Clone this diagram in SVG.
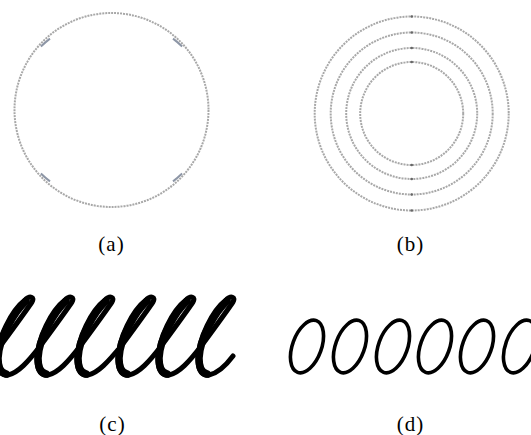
<svg xmlns="http://www.w3.org/2000/svg" width="531" height="435" viewBox="0 0 531 435">
<style>
.ring{fill:none;stroke:#a8a8a8;stroke-width:2;stroke-dasharray:2 1}
.mark{fill:#666}
.amark{fill:none;stroke:#8d96a6;stroke-width:2}
.pen{fill:none;stroke:#000;stroke-linecap:round;stroke-linejoin:round}
.zero{fill:none;stroke:#000;stroke-width:3.6}
.lbl{font-family:"Liberation Serif","Times New Roman",serif;font-size:21px;fill:#000;text-anchor:middle;letter-spacing:1px}
</style>
<rect width="531" height="435" fill="#fff"/>
<g id="fig-a">
<circle class="ring" cx="111.5" cy="110" r="97"/>
<path class="amark" d="M40.9 46.5 A97 97 0 0 1 50 38.6"/>
<path class="amark" d="M173 38.6 A97 97 0 0 1 182.1 46.5"/>
<path class="amark" d="M182.1 173.5 A97 97 0 0 1 173 181.4"/>
<path class="amark" d="M50 181.4 A97 97 0 0 1 40.9 173.5"/>
</g>
<g id="fig-b">
<circle class="ring" cx="411.7" cy="113.5" r="97"/>
<circle class="ring" cx="411.7" cy="113.5" r="81"/>
<circle class="ring" cx="411.7" cy="113.5" r="65.5"/>
<circle class="ring" cx="411.7" cy="113.5" r="51.5"/>
<circle class="mark" cx="411.7" cy="16.5" r="1.3"/>
<circle class="mark" cx="411.7" cy="32.5" r="1.3"/>
<circle class="mark" cx="411.7" cy="48" r="1.3"/>
<circle class="mark" cx="411.7" cy="62" r="1.3"/>
<circle class="mark" cx="411.7" cy="165" r="1.3"/>
<circle class="mark" cx="411.7" cy="179" r="1.3"/>
<circle class="mark" cx="411.7" cy="194.5" r="1.3"/>
<circle class="mark" cx="411.7" cy="210.5" r="1.3"/>
</g>
<g id="fig-c">
<path class="pen" stroke-width="5" d="M-12 360 C-6 356 -3 350 1 345
C12 330 28 308 32 302 C35 297 30 295 25 300 C12 310 -3 338 -3 360 C-3 372 2 376 8 375 C18 373 28 362 41 345
C52 330 68 308 72 302 C75 297 70 295 65 300 C52 310 37 338 37 360 C37 372 42 376 48 375 C58 373 68 362 81 345
C92 330 108 308 112 302 C115 297 110 295 105 300 C92 310 77 338 77 360 C77 372 82 376 88 375 C98 373 108 362 122 345
C133 330 149 308 153 302 C156 297 151 295 146 300 C133 310 118 338 118 360 C118 372 123 376 129 375 C139 373 149 362 162 345
C173 330 189 308 193 302 C196 297 191 295 186 300 C173 310 158 338 158 360 C158 372 163 376 169 375 C179 373 189 362 202 345
C213 330 229 308 233 302 C236 297 231 295 226 300 C213 310 198 338 198 360 C198 372 203 376 209 375 C219 373 227 364 233 356"/>
<path class="pen" stroke-width="7.5" d="M26 301 C14 312 -1 338 -2 358 C-2 369 2 373 6 374
M66 301 C54 312 39 338 38 358 C38 369 42 373 46 374
M106 301 C94 312 79 338 78 358 C78 369 82 373 86 374
M147 301 C135 312 120 338 119 358 C119 369 123 373 127 374
M187 301 C175 312 160 338 159 358 C159 369 163 373 167 374
M227 301 C215 312 200 338 199 358 C199 369 203 373 207 374"/>
</g>
<g id="fig-d">
<ellipse class="zero" cx="307" cy="346.5" rx="14.5" ry="27.5" transform="rotate(20 307 346.5)"/>
<ellipse class="zero" cx="350" cy="346.5" rx="14.5" ry="27.5" transform="rotate(20 350 346.5)"/>
<ellipse class="zero" cx="393" cy="346.5" rx="14.5" ry="27.5" transform="rotate(20 393 346.5)"/>
<ellipse class="zero" cx="435" cy="346.5" rx="14.5" ry="27.5" transform="rotate(20 435 346.5)"/>
<ellipse class="zero" cx="477" cy="346.5" rx="14.5" ry="27.5" transform="rotate(20 477 346.5)"/>
<ellipse class="zero" cx="520" cy="346.5" rx="14.5" ry="27.5" transform="rotate(20 520 346.5)"/>
</g>
<g id="labels">
<text class="lbl" x="111.5" y="251.3">(a)</text>
<text class="lbl" x="410.5" y="251.3">(b)</text>
<text class="lbl" x="112.5" y="430.5">(c)</text>
<text class="lbl" x="410.5" y="430.5">(d)</text>
</g>
</svg>
